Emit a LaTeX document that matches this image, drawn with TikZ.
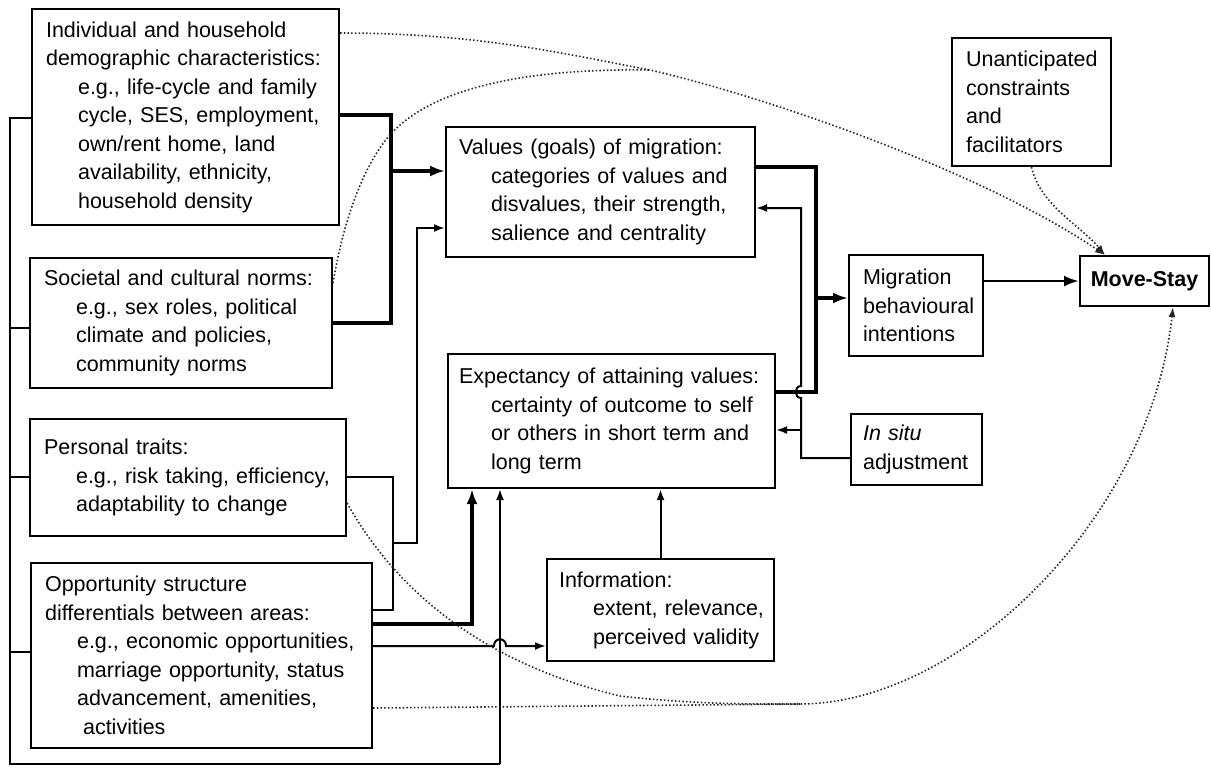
\documentclass[tikz,border=0pt]{standalone}
\usepackage{fontspec}
\setmainfont{Liberation Sans}
\usetikzlibrary{arrows.meta}
\setlength{\parindent}{0pt}
\newcommand{\tline}[1]{\mbox{#1}}
\newcommand{\iline}[1]{\mbox{\hspace*{32pt}#1}}
\begin{document}
\begin{tikzpicture}[x=1pt,y=-1pt,
  bx/.style={draw, line width=2.1pt, anchor=north west, inner ysep=0pt, align=left,
             font=\fontsize{21.5pt}{28.5pt}\selectfont},
  thk/.style={line width=3.4pt, line join=miter},
  thn/.style={line width=2pt, line join=miter},
  tipbig/.style={-{Latex[length=15pt,width=11pt]}},
  tipsm/.style={-{Latex[length=11pt,width=8pt]}},
  dotl/.style={line width=1.6pt, dash pattern=on 1.5pt off 2.2pt, black!85},
  dottip/.style={-{Latex[length=10pt,width=7pt]}}]
\useasboundingbox (0,0) rectangle (1211,769);

% ---------- boxes ----------
\node[bx, minimum width=307pt, text width=279pt, inner xsep=14pt, minimum height=216pt] (ind) at (31,8)
 {\tline{Individual and household}\\
  \tline{demographic characteristics:}\\
  \iline{e.g., life-cycle and family}\\
  \iline{cycle, SES, employment,}\\
  \iline{own/rent home, land}\\
  \iline{availability, ethnicity,}\\
  \iline{household density}};
\node[bx, minimum width=302pt, text width=274pt, inner xsep=14pt, minimum height=130pt] (soc) at (29,257)
 {\tline{Societal and cultural norms:}\\
  \iline{e.g., sex roles, political}\\
  \iline{climate and policies,}\\
  \iline{community norms}};
\node[bx, minimum width=316pt, text width=288pt, inner xsep=14pt, minimum height=117pt] (per) at (29,418)
 {\tline{Personal traits:}\\
  \iline{e.g., risk taking, efficiency,}\\
  \iline{adaptability to change}};
\node[bx, minimum width=341pt, text width=313pt, inner xsep=14pt, minimum height=185pt] (opp) at (30,562)
 {\tline{Opportunity structure}\\
  \tline{differentials between areas:}\\
  \iline{e.g., economic opportunities,}\\
  \iline{marriage opportunity, status}\\
  \iline{advancement, amenities,}\\
  \mbox{\hspace*{38pt}activities}};
\node[bx, minimum width=309pt, text width=283pt, inner xsep=13pt, minimum height=130pt] (val) at (445,126)
 {\tline{Values (goals) of migration:}\\
  \iline{categories of values and}\\
  \iline{disvalues, their strength,}\\
  \iline{salience and centrality}};
\node[bx, minimum width=327pt, text width=305pt, inner xsep=11pt, minimum height=134pt] (exp) at (447,353)
 {\tline{Expectancy of attaining values:}\\
  \iline{certainty of outcome to self}\\
  \iline{or others in short term and}\\
  \iline{long term}};
\node[bx, minimum width=227pt, text width=203pt, inner xsep=12pt, minimum height=102pt] (info) at (546,558)
 {\tline{Information:}\\
  \mbox{\hspace*{34pt}extent, relevance,}\\
  \mbox{\hspace*{34pt}perceived validity}};
\node[bx, minimum width=134pt, text width=106pt, inner xsep=14pt, minimum height=101pt] (mig) at (848,254)
 {\tline{Migration}\\ \tline{behavioural}\\ \tline{intentions}};
\node[bx, minimum width=129pt, minimum height=50pt, inner xsep=0pt, align=center] (move) at (1079,255)
 {\textbf{Move-Stay}};
\node[bx, minimum width=159pt, text width=131pt, inner xsep=14pt, minimum height=128pt] (unant) at (951,37)
 {\tline{Unanticipated}\\ \tline{constraints}\\ \tline{and}\\ \tline{facilitators}};
\node[bx, minimum width=131pt, text width=107pt, inner xsep=12pt, minimum height=71pt] (insitu) at (850,413)
 {\tline{\textit{In situ}}\\ \tline{adjustment}};

% ---------- left bus ----------
\coordinate (busTop) at (10,118);
\coordinate (busBot) at (10,764);
\coordinate (busEnd) at (500,764);
\draw[thn] (ind.west |- busTop) -- (busTop) -- (busBot) -- (busEnd);
\draw[thn,tipsm] (busEnd) -- (busEnd |- exp.south);
\draw[thn] (soc.west |- 0,328) -- (10,328);
\draw[thn] (per.west |- 0,477) -- (10,477);
\draw[thn] (opp.west |- 0,652) -- (10,652);

% ---------- A/B bracket to values ----------
\draw[thk] (ind.east |- 0,115) -- (391,115) -- (391,323) -- (soc.east |- 0,323);
\draw[thk,tipbig] (391,171) -- (val.west |- 0,171);

% ---------- C/D bracket to values ----------
\draw[thn] (per.east |- 0,477) -- (393,477) -- (393,610) -- (opp.east |- 0,610);
\draw[thn,tipsm] (393,543) -- (417,543) -- (417,228) -- (val.west |- 0,228);

% ---------- D to expectancy and information ----------
\draw[thk,tipbig] (opp.east |- 0,624) -- (472,624) -- (472,624 |- exp.south);
\draw[thn,tipsm] (opp.east |- 0,646) -- (494,646) .. controls (494,637) and (506,637) .. (506,646) -- (info.west |- 0,646);
\draw[thn,tipsm] (info.north) -- (info.north |- exp.south);

% ---------- values/expectancy to migration ----------
\draw[thk] (val.east |- 0,167) -- (816,167) -- (816,392) -- (exp.east |- 0,392);
\draw[thk,tipbig] (816,298) -- (mig.west |- 0,298);

% ---------- in situ feedback ----------
\draw[thn,tipsm] (insitu.west |- 0,458) -- (801,458) -- (801,398)
   .. controls (794,398) and (794,386) .. (801,386) -- (801,208) -- (val.east |- 0,208);
\draw[thn,tipsm] (801,430) -- (exp.east |- 0,430);

% ---------- migration to move-stay ----------
\draw[line width=2.6pt,tipbig] (mig.east |- move.west) -- (move.west);

% ---------- dotted influences ----------
\coordinate (m1) at (650,70);
\coordinate (m2) at (800,704);
\coordinate (mtop) at ([xshift=26pt]move.north west);
\coordinate (mbot) at ([xshift=94pt]move.south west);
\draw[dotl,dottip] (ind.east |- 0,33) .. controls (480,33) and (570,55) .. (m1)
   .. controls (760,95) and (980,170) .. (mtop);
\draw[dotl] (soc.east |- 0,283) .. controls (345,210) and (370,150) .. (400,125)
   .. controls (440,90) and (520,68) .. (m1);
\draw[dotl,dottip] (unant.south) .. controls (1040,205) and (1080,225) .. (mtop);
\draw[dotl,dottip] (per.east |- 0,503) .. controls (390,580) and (470,660) .. (620,696)
   .. controls (700,705) and (760,704) .. (m2)
   .. controls (960,704) and (1150,520) .. (mbot);
\draw[dotl] (opp.east |- 0,708) -- (m2);
\end{tikzpicture}
\end{document}
